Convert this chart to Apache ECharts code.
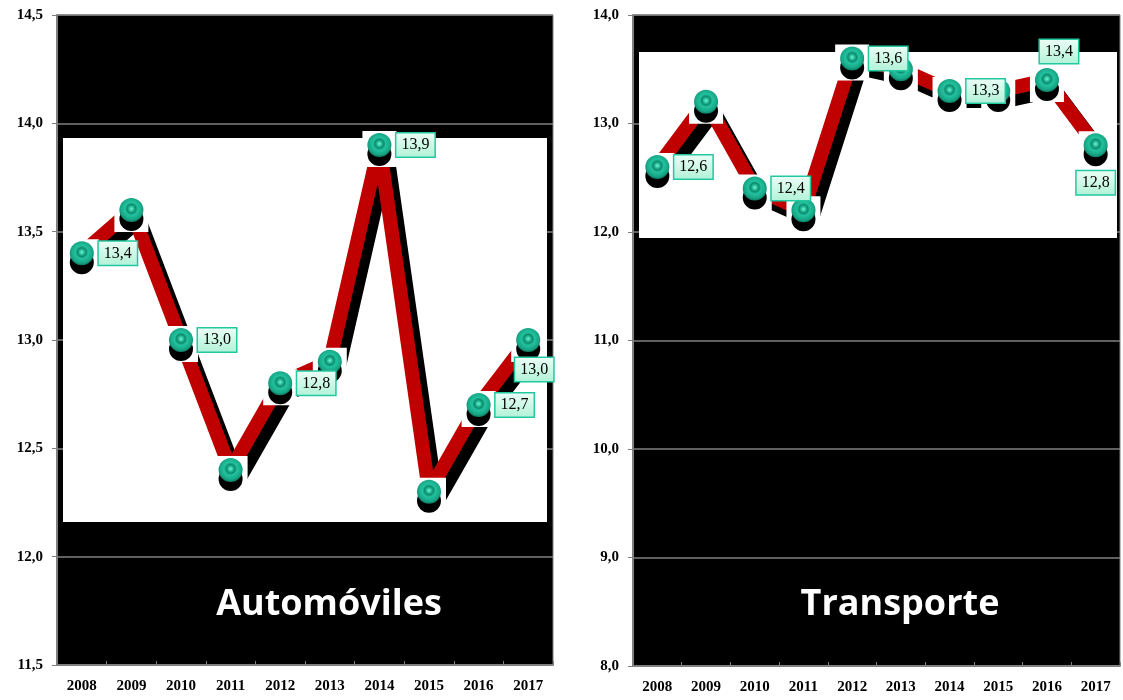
<!DOCTYPE html>
<html>
<head>
<meta charset="utf-8">
<script src="https://cdn.jsdelivr.net/npm/echarts@6/dist/echarts.min.js"></script>
<style>html,body{margin:0;padding:0;background:#fff}#c{width:1123px;height:700px}</style>
</head>
<body>
<div id="c"></div>
<script>
var years = ['2008','2009','2010','2011','2012','2013','2014','2015','2016','2017'];
var autoValues = [13.4, 13.6, 13.0, 12.4, 12.8, 12.9, 13.9, 12.3, 12.7, 13.0];
var transValues = [12.6, 13.2, 12.4, 12.2, 13.6, 13.5, 13.3, 13.3, 13.4, 12.8];
// label placement per point (null = no label)
var autoLabels = ['right', null, 'right', null, 'right', null, 'right', null, 'right', 'bottom'];
var transLabels = ['right', null, 'right', null, 'right', null, 'right', null, 'top', 'bottom'];
var titles = ['Automóviles', 'Transporte'];

var chart = echarts.init(document.getElementById('c'));

function fmt(v){ return v.toFixed(1).replace('.', ','); }

var sphere = {
  type: 'radial', x: 0.5, y: 0.45, r: 0.6,
  colorStops: [
    {offset: 0, color: '#7af2d2'},
    {offset: 0.15, color: '#2cc4a0'},
    {offset: 0.3, color: '#0c8a6e'},
    {offset: 0.45, color: '#22c29e'},
    {offset: 0.75, color: '#17a686'},
    {offset: 1, color: '#076450'}
  ]
};
var labelBase = {
  show: true,
  formatter: function(p){ return fmt(p.value); },
  fontFamily: 'Liberation Serif',
  fontSize: 16,
  color: '#000',
  opacity: 1,
  padding: [4, 5, 3, 5],
  borderColor: '#22c8a0',
  borderWidth: 1.5,
  backgroundColor: {
    type: 'linear', x: 0, y: 0, x2: 0, y2: 1,
    colorStops: [{offset: 0, color: '#ecfff6'}, {offset: 1, color: '#b0f2d8'}]
  }
};

function pointData(values, labels, offs){
  return values.map(function(v, i){
    var pos = labels[i];
    if (!pos) return {value: v, label: {show: false}};
    var lab = {position: pos, distance: pos === 'right' ? 5 : (offs[i] || 6)};
    if (pos === 'bottom') lab.offset = [offs.shiftX, 0];
    if (pos === 'top') lab.offset = [12, 0];
    return {value: v, label: lab};
  });
}

function panelSeries(idx, values, labels, offs){
  return [
    {
      type: 'line', xAxisIndex: idx, yAxisIndex: idx, data: values,
      showSymbol: false, z: 3, silent: true,
      lineStyle: {width: 14, color: '#c00000', shadowColor: '#000', shadowBlur: 0, shadowOffsetX: 8, shadowOffsetY: 10, cap: 'butt', join: 'bevel'}
    },
    {
      type: 'scatter', xAxisIndex: idx, yAxisIndex: idx, data: values,
      symbol: 'rect', symbolSize: [34, 36], symbolOffset: [0, 4], z: 4, silent: true,
      itemStyle: {color: '#fff', opacity: 1}
    },
    {
      type: 'scatter', xAxisIndex: idx, yAxisIndex: idx,
      data: pointData(values, labels, offs),
      symbol: 'circle', symbolSize: 24, z: 5, silent: true,
      itemStyle: {color: sphere, opacity: 1, shadowColor: '#000', shadowBlur: 0, shadowOffsetY: 9},
      label: labelBase
    }
  ];
}

var axisLabelY = {fontFamily: 'Liberation Serif', fontWeight: 'bold', fontSize: 15, color: '#000', margin: 14,
  formatter: function(v){ return fmt(v); }};
var axisLabelX = {fontFamily: 'Liberation Serif', fontWeight: 'bold', fontSize: 15, color: '#000', margin: 14, interval: 0};

var autoOffs = {9: 6, shiftX: 6};
var transOffs = {8: 5, 9: 14, shiftX: 0};

chart.setOption({
  animation: false,
  backgroundColor: '#fff',
  grid: [
    {left: 57, top: 15, width: 496, height: 650, show: true, backgroundColor: '#000', borderColor: '#808080', borderWidth: 1, containLabel: false},
    {left: 633, top: 15, width: 487, height: 651, show: true, backgroundColor: '#000', borderColor: '#808080', borderWidth: 1, containLabel: false}
  ],
  xAxis: [
    {type: 'category', gridIndex: 0, data: years, boundaryGap: true,
      axisLine: {lineStyle: {color: '#808080', width: 2}}, axisTick: {show: true, lineStyle: {color: '#808080'}, length: 4, inside: true}, axisLabel: axisLabelX},
    {type: 'category', gridIndex: 1, data: years, boundaryGap: true,
      axisLine: {lineStyle: {color: '#808080', width: 2}}, axisTick: {show: true, lineStyle: {color: '#808080'}, length: 4, inside: true}, axisLabel: axisLabelX}
  ],
  yAxis: [
    {type: 'value', gridIndex: 0, min: 11.5, max: 14.5, interval: 0.5,
      axisLine: {show: true, lineStyle: {color: '#808080', width: 2}}, axisTick: {show: true, length: 5, lineStyle: {color: '#808080'}},
      splitLine: {lineStyle: {color: '#808080', width: 1.5}}, axisLabel: axisLabelY},
    {type: 'value', gridIndex: 1, min: 8, max: 14, interval: 1,
      axisLine: {show: true, lineStyle: {color: '#808080', width: 2}}, axisTick: {show: true, length: 5, lineStyle: {color: '#808080'}},
      splitLine: {lineStyle: {color: '#808080', width: 1.5}}, axisLabel: axisLabelY}
  ],
  graphic: [
    {type: 'rect', z: 1, silent: true, shape: {x: 63, y: 138, width: 484, height: 384}, style: {fill: '#fff'}},
    {type: 'rect', z: 1, silent: true, shape: {x: 639, y: 52, width: 478, height: 186}, style: {fill: '#fff'}},
    {type: 'text', z: 10, silent: true, x: 329, y: 605, style: {text: titles[0], fill: '#fff', font: 'bold 36px "Open Sans"', align: 'center', verticalAlign: 'middle'}},
    {type: 'text', z: 10, silent: true, x: 900, y: 605, style: {text: titles[1], fill: '#fff', font: 'bold 36px "Open Sans"', align: 'center', verticalAlign: 'middle'}}
  ],
  series: panelSeries(0, autoValues, autoLabels, autoOffs).concat(panelSeries(1, transValues, transLabels, transOffs))
});
</script>
</body>
</html>
